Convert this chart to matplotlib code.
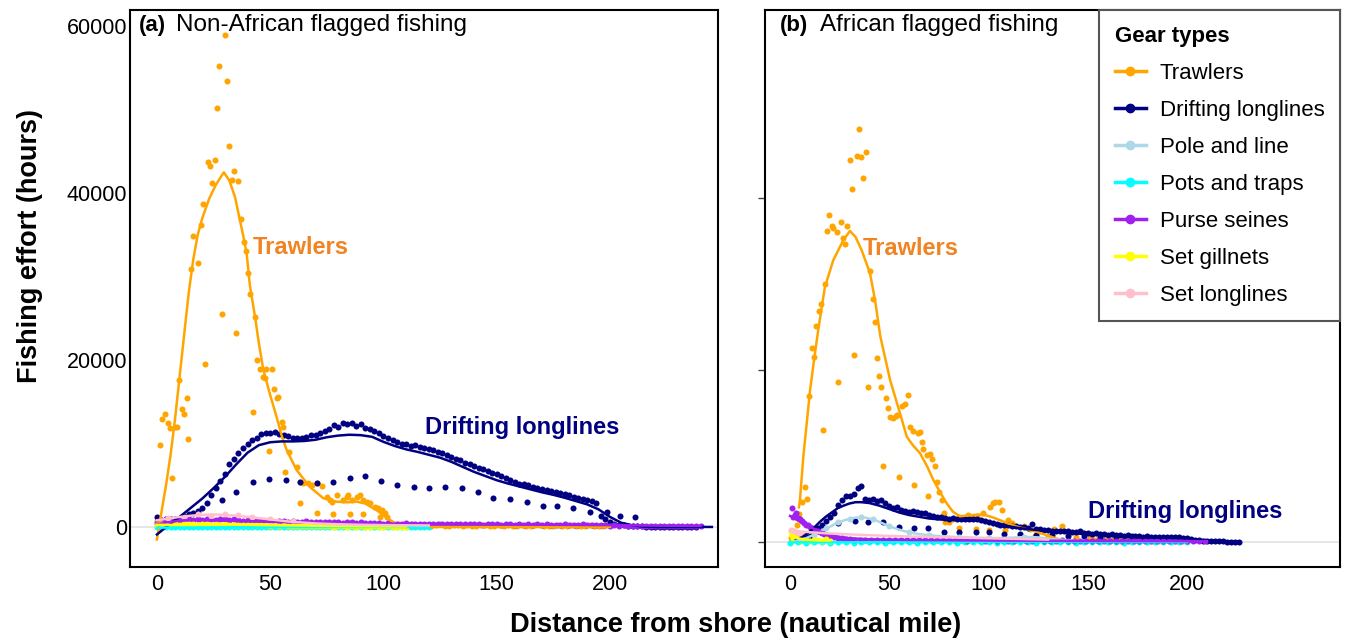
import numpy as np
import matplotlib
matplotlib.use("Agg")
import matplotlib.pyplot as plt
from matplotlib.lines import Line2D

plt.rcParams["font.family"] = ["Liberation Sans", "DejaVu Sans"]

# colours per gear
gear_names = ["Trawlers", "Drifting longlines", "Pole and line", "Pots and traps",
              "Purse seines", "Set gillnets", "Set longlines"]
gear_colors = ["#FFA500", "#000080", "#ADD8E6", "#00FFFF", "#A020F0", "#FFFF00", "#FFC0CB"]

# ---------------- (a) Non-African flagged fishing ----------------
a_trawl_x = [0.0, 1.3, 2.3, 3.5, 4.7, 5.7, 6.5, 7.9, 9.0, 9.8, 10.9, 11.9, 13.1, 13.8, 14.9, 16.0,
             18.2, 19.3, 20.2, 21.3, 22.4, 23.4, 24.4, 25.6, 26.6, 27.5, 28.6, 30.0, 30.8, 31.8,
             33.0, 34.0, 34.9, 35.9, 37.1, 38.4, 39.2, 40.3, 41.1, 42.3, 43.3, 44.3, 45.5, 46.7,
             47.7, 48.1, 49.6, 50.9, 51.7, 52.8, 53.6, 55.1, 55.8, 56.6, 58.5, 61.7, 63.1, 63.1,
             64.6, 66.8, 68.3, 70.5, 70.5, 72.7, 74.9, 76.4, 77.1, 77.8, 79.3, 82.3, 83.7, 84.5,
             85.2, 86.0, 88.2, 89.6, 91.1, 91.1, 92.6, 94.0, 96.2, 97.7, 98.5, 99.2, 100.7, 101.4]
a_trawl_y = [700, 9820, 12930, 13500, 12420, 11820, 5830, 12000, 12000, 17600, 14090, 13500, 15450,
             10500, 30860, 34850, 31650, 36170, 38650, 19560, 43750, 43200, 41240, 43950, 50260,
             55200, 25550, 58900, 53450, 45700, 41560, 42670, 23200, 41440, 36890, 34170, 33100,
             30380, 27870, 13810, 25190, 19960, 18890, 17930, 17800, 18890, 9100, 18890, 16530,
             15410, 15530, 12610, 11940, 6620, 9000, 7220, 5430, 2840, 5230, 5310, 5030, 5230, 1640,
             4910, 3630, 3230, 3030, 1520, 3830, 3230, 3630, 3830, 1520, 3230, 3630, 3830, 3230,
             1520, 3030, 2840, 2430, 2240, 1240, 2040, 1640, 1240]
a_trawl_tail_y = [600, 400, 300, 250, 200, 300, 150, 200, 250, 150, 200, 300, 150, 100, 200, 250,
                  150, 200, 100, 150, 250, 200, 150, 100, 200, 150, 250, 100, 150, 200, 150, 100,
                  200, 250, 150, 100, 150, 200, 100, 150, 200, 150, 100, 150, 200, 100, 150, 100, 200]
a_trawl_line_x = [0, 2, 4, 6, 8, 10, 12, 14, 16, 18, 20, 23, 26, 29.5, 32, 34.5, 36.6, 38, 39.6,
                  41, 43.3, 45, 47, 50, 52.8, 55, 57.3, 61.7, 67.5, 73.4, 79.3, 84, 88.2, 92, 97,
                  100, 103, 106, 110, 150, 200]
a_trawl_line_y = [-1500, 1800, 5000, 8600, 13000, 18000, 23000, 28000, 32000, 35000, 37000, 39300,
                  41000, 42500, 41500, 39500, 36800, 35000, 32800, 29000, 25200, 22000, 18800,
                  15800, 13200, 11000, 9200, 6800, 4800, 3450, 3030, 2950, 3030, 2800, 2000, 1400,
                  800, 250, 0, 0, 0]

a_drift_y = [1200, 800, 900, 1000, 1000, 1100, 1300, 1500, 1650, 1900, 2300, 2900, 3800, 4700,
             5500, 6400, 7500, 8200, 8900, 9500, 10000, 10400, 10700, 11100, 11300, 11200, 11400,
             11100, 11000, 10900, 10700, 10600, 10700, 10800, 11000, 11000, 11300, 11500, 11700,
             12200, 12000, 12500, 12300, 12400, 12100, 12300, 11900, 11700, 11500, 11200, 10900,
             10600, 10400, 10200, 10000, 9900, 9700, 9800, 9600, 9500, 9400, 9200, 9000, 8900,
             8600, 8400, 8200, 8000, 7700, 7500, 7300, 7100, 6900, 6700, 6500, 6300, 6100, 5900,
             5600, 5400, 5200, 5100, 5000, 4800, 4700, 4500, 4400, 4300, 4200, 4100, 3900, 3800,
             3600, 3500, 3400, 3200, 3100, 2900, 1300, 900, 600, 400, 250, 200, 150, 100, 80, 60,
             50, 50, 40, 40, 30, 30, 30, 20, 20, 20, 10, 10]
a_drift_sparse_x = [28.6, 34.9, 42.3, 49.6, 57.0, 63.1, 70.5, 77.8, 85.2, 91.8, 98.8, 106.1, 113.5,
                    120.1, 127.2, 134.5, 141.9, 148.5, 155.8, 163.2, 170.6, 176.5, 183.8, 191.2,
                    198.5, 204.4, 211.0]
a_drift_sparse_y = [3240, 4160, 5360, 5760, 5640, 5400, 5320, 5440, 5920, 6120, 5560, 5000, 4760,
                    4640, 4840, 4640, 4240, 3520, 3320, 3000, 2520, 2520, 2240, 1840, 1760, 1320,
                    1160]
a_drift_line_x = [0, 5, 10, 15, 20, 25, 30, 35, 40, 45, 50, 55, 60, 65, 70, 75, 80, 85, 90, 95,
                  100, 105, 110, 115, 120, 125, 130, 135, 140, 145, 150, 155, 160, 165, 170, 175,
                  180, 185, 190, 195, 200, 205, 210, 215, 220, 245]
a_drift_line_y = [-900, 200, 1200, 2300, 3400, 4650, 6000, 7500, 8900, 9800, 10150, 10250, 10250,
                  10300, 10450, 10750, 10950, 11050, 11000, 10800, 10200, 9700, 9300, 9000, 8650,
                  8300, 7800, 7200, 6600, 6100, 5600, 5200, 4850, 4500, 4150, 3850, 3500, 3100,
                  2700, 2100, 1200, 500, 180, 40, 0, 0]

a_purse_y = [500, 800, 900, 700, 1000, 800, 900, 1000, 850, 950, 800, 900, 1000, 850, 900,
             950, 800, 900, 850, 750, 800, 700, 850, 750, 700, 800, 650, 700, 750, 650,
             700, 600, 650, 700, 600, 650, 550, 600, 650, 550, 600, 500, 550, 600, 500,
             550, 500, 450, 500, 450, 400, 450, 400, 350, 400, 450, 350, 400, 350, 400,
             350, 400, 300, 350, 400, 300, 350, 300, 350, 300, 350, 300, 250, 300, 350,
             300, 250, 300, 350, 250, 300, 250, 300, 250, 300, 250, 300, 250, 200, 250,
             300, 250, 200, 250, 300, 200, 250, 200, 250, 200, 150, 200, 150, 200, 150,
             150, 100, 150, 100, 150, 100, 150, 100, 100, 150, 100, 100, 150, 100, 100, 100]
a_purse_line_x = [0, 5, 10, 15, 20, 25, 30, 40, 50, 60, 80, 100, 120, 150, 180, 200, 220, 240]
a_purse_line_y = [300, 550, 750, 850, 850, 800, 750, 700, 620, 560, 470, 400, 350, 300, 250, 220,
                  160, 120]
a_setlong_x = [5, 12, 18, 24, 30, 36, 42, 50, 60]
a_setlong_y = [1100, 1200, 1500, 1300, 1600, 1400, 1200, 900, 700]
a_setlong_line_x = [0, 5, 10, 15, 20, 25, 30, 35, 40, 45, 50, 55, 60, 70, 80, 90, 100, 120]
a_setlong_line_y = [800, 1000, 1200, 1350, 1450, 1500, 1450, 1350, 1200, 1050, 900, 750, 600, 420,
                    320, 260, 220, 180]
a_gill_y = [200, 300, 250, 350, 300, 250, 300, 350, 300, 250, 300, 300, 250, 300, 250, 300, 250,
            200, 250, 200, 250, 200, 200, 250, 200, 150, 200, 150, 200, 150, 150, 150, 100, 150,
            100, 100, 150, 100, 100, 50, 100, 100, 50, 100, 50, 100, 50, 50, 100, 50, 50, 100, 50,
            50, 50, 50]
a_gill_line_x = [0, 20, 40, 60, 80, 110]
a_gill_line_y = [250, 280, 250, 180, 100, 60]
a_pots_y = [0, -50, 50, 0, -50, 0, 50, -50, 0, 0, -50, 50, 0, -50, 0, 50, 0, -50, 0, 0,
            50, -50, 0, 0, -50, 50, 0, 0, -50, 0, 50, 0, -50, 0, 0, 50, -50, 0, 0, -50,
            0, 50, 0, 0, -50, 0, 0, 50, 0, -50, 0, 0, 50, 0, -50, 0, 0, 0, 50, 0, -50]
a_pots_line_x = [0, 30, 60, 90, 120]
a_pots_line_y = [-80, -40, -20, 0, 0]

# ---------------- (b) African flagged fishing ----------------
b_trawl_x = [0.5, 1.5, 2.5, 3.5, 4.5, 5.9, 7.6, 8.4, 9.7, 10.9, 12.1, 13.1, 14.5, 15.6, 16.5, 17.6,
             18.8, 19.8, 21.0, 21.8, 23.5, 24.3, 25.5, 26.5, 27.9, 28.9, 30.2, 31.4, 32.4, 33.6,
             34.6, 35.8, 36.9, 38.1, 39.1, 40.3, 41.7, 42.8, 43.7, 44.8, 45.8, 47.0, 48.2, 49.5,
             50.4, 51.9, 53.2, 53.7, 55.1, 56.3, 57.9, 59.6, 60.5, 62.1, 62.6, 64.6, 65.5, 66.4,
             67.2, 68.9, 69.7, 70.5, 71.5, 73.0, 73.9, 75.1, 76.4, 77.6, 78.1, 80.0, 82.0, 85.3,
             85.3, 87.5, 89.8, 91.5, 93.7, 94.1, 97.4, 100.4, 100.8, 102.0, 103.3, 105.4, 107.0,
             108.3, 110.0, 112.0, 115.9, 118.0, 121.0, 123.4, 126.0, 130.0, 133.0, 136.9, 140.0,
             144.0, 147.8, 151.0]
b_trawl_y = [400, 1200, 800, 2000, 3200, 4590, 6410, 4940, 16970, 22530, 21550, 25170, 26880, 27690,
             13010, 30020, 36230, 38020, 36780, 36510, 36120, 18570, 37210, 35420, 34650, 36810,
             44470, 41120, 21750, 44970, 48040, 44780, 42410, 45400, 17990, 31570, 28270, 25630,
             21360, 19300, 17990, 8850, 16700, 15540, 14560, 14400, 14680, 14760, 7570, 15850,
             16000, 17090, 13400, 12930, 6600, 12630, 12810, 11580, 10800, 10100, 5320, 10220,
             9630, 8850, 6990, 5830, 4860, 3310, 2330, 2300, 2600, 1560, 2910, 2800, 3110, 2900,
             1440, 2990, 3310, 1360, 4080, 4500, 4660, 4590, 3700, 1360, 2500, 2200, 700, 1800,
             1500, 650, 1300, 700, 1500, 1830, 900, 600, 980, 400]
b_trawl_tail_y = [300, 200, 250, 150, 200, 150, 200, 100, 150, 200, 100, 150, 100, 150, 100, 100,
                  150, 100, 100, 150, 100, 100, 50, 100, 100]
b_trawl_line_x = [4.5, 5, 6.7, 8.5, 10.1, 12, 14.3, 17.6, 21.8, 26.9, 30.2, 33, 36, 40.3, 42.8,
                  45.5, 50.4, 55.4, 58.8, 62, 65.5, 69, 72.2, 75.5, 78.9, 82, 85.6, 89, 92.3, 95.5,
                  99.1, 102.5, 105.8, 110, 115, 120, 125, 130, 135, 140, 145, 170, 200]
b_trawl_line_y = [4000, 4860, 9900, 14000, 17670, 21000, 24800, 29700, 32800, 35150, 36200, 35500,
                  34000, 31270, 28160, 23900, 18840, 14960, 12230, 11200, 10300, 8800, 7190, 5800,
                  4470, 3500, 2950, 3050, 3110, 3150, 3050, 2800, 2500, 2100, 1700, 1400, 1100, 700,
                  300, 50, 0, 0, 0]

b_drift_y = [300, 500, 600, 700, 1100, 1600, 2000, 2400, 2900, 3300, 4300, 4900, 5300, 5300, 5600,
             6200, 6500, 5000, 4900, 5000, 4700, 4800, 4500, 4200, 3900, 4000, 3700, 3600, 3500,
             3600, 3400, 3300, 3300, 3100, 3000, 2900, 2900, 2800, 2700, 2800, 2700, 2700, 2600,
             2700, 2600, 2700, 2500, 2400, 2300, 2200, 2100, 2000, 1900, 1900, 1800, 1800, 1700,
             1700, 1600, 2100, 1500, 1500, 1400, 1400, 1300, 1300, 1200, 1300, 1200, 1100, 1100,
             1200, 1000, 1000, 900, 1000, 900, 900, 800, 900, 800, 800, 700, 800, 700, 700, 700,
             600, 700, 600, 600, 600, 500, 600, 500, 500, 500, 400, 400, 300, 200, 150, 100, 80,
             60, 50, 40, 30, 20, 20, 10, 0]
b_drift_sparse_x = [24.3, 32.7, 39.1, 47.0, 55.1, 62.6, 69.7, 77.7, 85.3, 93.7, 100.4, 108, 116,
                    124, 132, 140, 148, 156, 164, 172, 180, 188, 196]
b_drift_sparse_y = [2140, 2410, 2330, 2260, 1680, 1630, 1560, 1170, 1170, 1100, 1100, 950, 850, 800,
                    750, 700, 650, 600, 550, 500, 450, 400, 350]
b_drift_line_x = [3, 6, 9, 12, 15, 18, 21, 24, 27, 30, 33, 36, 40, 45, 50, 55, 60, 65, 70, 75, 80,
                  85, 90, 95, 100, 105, 110, 115, 120, 130, 140, 150, 160, 170, 180, 190, 200, 205,
                  210, 215, 220, 226]
b_drift_line_y = [200, 500, 1000, 1600, 2300, 2900, 3400, 3900, 4200, 4450, 4600, 4600, 4500, 4200,
                  3800, 3400, 3100, 2900, 2700, 2600, 2550, 2550, 2500, 2450, 2250, 2000, 1800,
                  1600, 1450, 1250, 1050, 850, 700, 580, 500, 450, 380, 250, 150, 80, 30, 0]

b_pole_x = [12, 18, 24, 30, 36, 42, 50, 60, 70, 85, 100, 118]
b_pole_y = [800, 1600, 2300, 2700, 2900, 2600, 1800, 1100, 800, 600, 450, 600]
b_pole_line_x = [3, 8, 13, 18, 23, 28, 33, 38, 43, 48, 53, 58, 63, 68, 75, 85, 95, 105, 115, 120,
                 125, 132, 140, 150]
b_pole_line_y = [100, 400, 900, 1500, 2100, 2550, 2800, 2800, 2500, 2000, 1550, 1200, 950, 800,
                 650, 520, 440, 420, 500, 550, 500, 300, 150, 50]

b_purse_x = [1, 1.5, 2.5, 3, 4, 5, 6, 7, 8, 9, 10, 11, 12, 13, 14, 15, 16, 17, 18, 20, 22, 24,
             26, 28, 30]
b_purse_y = [3900, 2900, 3100, 3300, 2800, 2600, 2400, 2200, 2000, 1900, 1700, 1600, 1400, 1300,
             1200, 1100, 1000, 900, 800, 650, 550, 450, 400, 350, 300]
b_purse_tail_y = [250, 200, 250, 200, 200, 250, 200, 150, 200, 200, 150, 200, 150, 200, 150, 150,
                  200, 150, 150, 100, 150, 150, 100, 150, 100, 150, 100, 100, 150, 100, 100, 150,
                  100, 100, 100, 150, 100, 100, 50, 100, 100, 50, 100, 100, 50, 100, 50, 100, 50,
                  50, 100, 50, 50, 100, 50, 50, 50, 100, 50, 50]
b_purse_line_x = [0, 3, 6, 9, 12, 15, 18, 21, 25, 30, 40, 60, 100, 150, 200, 210]
b_purse_line_y = [3000, 2600, 2200, 1850, 1500, 1200, 950, 750, 550, 400, 280, 200, 130, 90, 60, 50]

b_setlong_x = [0.5, 2, 4, 6]
b_setlong_y = [1400, 1200, 1000, 900]
b_setlong_line_x = [0, 10, 20, 30, 40, 60, 80, 100, 120, 130]
b_setlong_line_y = [1300, 1100, 950, 850, 750, 600, 500, 400, 300, 250]

b_gill_x = [0.5, 1, 1.5, 2, 3, 4, 5, 6, 8, 10, 12, 14, 16, 18, 20]
b_gill_y = [1300, 800, 400, 200, 600, 300, 100, 200, 150, 100, 250, 150, 100, 300, 100]
b_gill_line_x = [0, 5, 10, 15, 20]
b_gill_line_y = [700, 350, 200, 150, 150]

b_pots_y = [-100, -50, -100, 0, -50, -100, -50, 0, -100, -50, -50, 0, -100, -50, 0, -50, -100,
            -50, 0, -50, -50, -100, 0, -50, -50, 0, -100, -50, 0, -50, -50, -100, 0, -50, 0, -50,
            -100, -50, 0, -50, -50, 0, -100, -50, 0, -50, -50, 0, -50, 0, -50]
b_pots_line_x = [0, 100, 200]
b_pots_line_y = [-80, -60, -50]


def grid(start, step, values):
    return start + step * np.arange(len(values))


W, H = 1348, 642
fig = plt.figure(figsize=(W / 100, H / 100), dpi=100)
ax1 = fig.add_axes([130 / W, 75 / H, 588 / W, 557 / H])
ax2 = fig.add_axes([765 / W, 75 / H, 575 / W, 557 / H])

col = dict(zip(gear_names, gear_colors))
ps = 19
lw = 1.8

# zero reference lines
for ax in (ax1, ax2):
    ax.axhline(0, color="#e2e2e2", lw=1.2, zorder=0)

# ----- panel a points
ax1.scatter(a_trawl_x, a_trawl_y, s=ps, c=col["Trawlers"], lw=0, zorder=2)
ax1.scatter(grid(103, 2, a_trawl_tail_y), a_trawl_tail_y, s=ps, c=col["Trawlers"], lw=0, zorder=2)
ax1.scatter(grid(0, 2, a_drift_y), a_drift_y, s=ps, c=col["Drifting longlines"], lw=0, zorder=2)
ax1.scatter(a_drift_sparse_x, a_drift_sparse_y, s=ps, c=col["Drifting longlines"], lw=0, zorder=2)
ax1.scatter(grid(0, 2, a_pots_y), a_pots_y, s=ps, c=col["Pots and traps"], lw=0, zorder=2)
ax1.scatter(grid(0, 2, a_purse_y), a_purse_y, s=ps, c=col["Purse seines"], lw=0, zorder=2)
ax1.scatter(grid(0, 2, a_gill_y), a_gill_y, s=ps, c=col["Set gillnets"], lw=0, zorder=2)
ax1.scatter(a_setlong_x, a_setlong_y, s=ps, c=col["Set longlines"], lw=0, zorder=2)

# ----- panel a smooth lines
ax1.plot(a_trawl_line_x, a_trawl_line_y, color=col["Trawlers"], lw=lw, zorder=3)
ax1.plot(a_drift_line_x, a_drift_line_y, color=col["Drifting longlines"], lw=lw, zorder=3)
ax1.plot(a_pots_line_x, a_pots_line_y, color=col["Pots and traps"], lw=lw, zorder=3)
ax1.plot(a_purse_line_x, a_purse_line_y, color=col["Purse seines"], lw=lw, zorder=3)
ax1.plot(a_gill_line_x, a_gill_line_y, color=col["Set gillnets"], lw=lw, zorder=3)
ax1.plot(a_setlong_line_x, a_setlong_line_y, color=col["Set longlines"], lw=lw, zorder=3)

# ----- panel b points
ax2.scatter(b_trawl_x, b_trawl_y, s=ps, c=col["Trawlers"], lw=0, zorder=2)
ax2.scatter(grid(152, 2, b_trawl_tail_y), b_trawl_tail_y, s=ps, c=col["Trawlers"], lw=0, zorder=2)
ax2.scatter(grid(4, 2, b_drift_y), b_drift_y, s=ps, c=col["Drifting longlines"], lw=0, zorder=2)
ax2.scatter(b_drift_sparse_x, b_drift_sparse_y, s=ps, c=col["Drifting longlines"], lw=0, zorder=2)
ax2.scatter(b_pole_x, b_pole_y, s=ps, c=col["Pole and line"], lw=0, zorder=2)
ax2.scatter(grid(0, 4, b_pots_y), b_pots_y, s=ps, c=col["Pots and traps"], lw=0, zorder=2)
ax2.scatter(b_purse_x, b_purse_y, s=ps, c=col["Purse seines"], lw=0, zorder=2)
ax2.scatter(grid(32, 3, b_purse_tail_y), b_purse_tail_y, s=ps, c=col["Purse seines"], lw=0, zorder=2)
ax2.scatter(b_gill_x, b_gill_y, s=ps, c=col["Set gillnets"], lw=0, zorder=2)
ax2.scatter(b_setlong_x, b_setlong_y, s=ps, c=col["Set longlines"], lw=0, zorder=2)

# ----- panel b smooth lines
ax2.plot(b_trawl_line_x, b_trawl_line_y, color=col["Trawlers"], lw=lw, zorder=3)
ax2.plot(b_drift_line_x, b_drift_line_y, color=col["Drifting longlines"], lw=lw, zorder=3)
ax2.plot(b_pole_line_x, b_pole_line_y, color=col["Pole and line"], lw=lw, zorder=3)
ax2.plot(b_pots_line_x, b_pots_line_y, color=col["Pots and traps"], lw=lw, zorder=3)
ax2.plot(b_purse_line_x, b_purse_line_y, color=col["Purse seines"], lw=lw, zorder=3)
ax2.plot(b_gill_line_x, b_gill_line_y, color=col["Set gillnets"], lw=lw, zorder=3)
ax2.plot(b_setlong_line_x, b_setlong_line_y, color=col["Set longlines"], lw=lw, zorder=3)

# axes limits and ticks
ax1.set_xlim(-11.9, 247.7)
ax1.set_ylim(-4800, 61950)
ax2.set_xlim(-12.6, 277)
ax2.set_ylim(-2950, 61940)

for ax in (ax1, ax2):
    ax.set_xticks([0, 50, 100, 150, 200])
    ax.tick_params(axis="x", length=0, pad=5, labelsize=15.5)
    for s in ax.spines.values():
        s.set_linewidth(1.5)
        s.set_color("black")

ax1.set_yticks([0, 20000, 40000, 60000])
ax1.tick_params(axis="y", length=0, pad=2, labelsize=15.5)
ax2.set_yticks([0, 20000, 40000])
ax2.tick_params(axis="y", length=5, width=1, color="#444444", labelleft=False)

# panel titles
ax1.text(0.015, 0.973, "(a)", transform=ax1.transAxes, fontsize=16, fontweight="bold",
         ha="left", va="center")
ax1.text(0.078, 0.973, "Non-African flagged fishing", transform=ax1.transAxes, fontsize=17.5,
         ha="left", va="center")
ax2.text(0.026, 0.973, "(b)", transform=ax2.transAxes, fontsize=16, fontweight="bold",
         ha="left", va="center")
ax2.text(0.0957, 0.973, "African flagged fishing", transform=ax2.transAxes, fontsize=17.5,
         ha="left", va="center")

# direct labels
lab_orange = "#F08322"
ax1.text(42.4, 33480, "Trawlers", color=lab_orange, fontsize=17, fontweight="bold",
         ha="left", va="center")
ax1.text(118.3, 11880, "Drifting longlines", color="#000080", fontsize=17, fontweight="bold",
         ha="left", va="center")
ax2.text(36.8, 34100, "Trawlers", color=lab_orange, fontsize=17, fontweight="bold",
         ha="left", va="center")
ax2.text(150.1, 3460, "Drifting longlines", color="#000080", fontsize=17, fontweight="bold",
         ha="left", va="center")

# legend
handles = [Line2D([], [], color=c, lw=2.5, marker="o", ms=6) for c in gear_colors]
leg = ax2.legend(handles, gear_names, title="Gear types", loc="upper right",
                 bbox_to_anchor=(1.0, 1.0), borderaxespad=0, frameon=True, fancybox=False,
                 edgecolor="#555555", fontsize=16, handlelength=1.4, handletextpad=0.63,
                 labelspacing=0.72, borderpad=0.7, alignment="left",
                 title_fontproperties={"weight": "bold", "size": 16})
leg.get_frame().set_linewidth(1.5)
leg.get_frame().set_alpha(1)

# shared axis labels
fig.text(30 / W, 1 - 246 / H, "Fishing effort (hours)", rotation=90, fontsize=19.5,
         fontweight="bold", ha="center", va="center")
fig.text(736 / W, 1 - 625 / H, "Distance from shore (nautical mile)", fontsize=19.5,
         fontweight="bold", ha="center", va="center")

fig.savefig("out.png", dpi=100)
